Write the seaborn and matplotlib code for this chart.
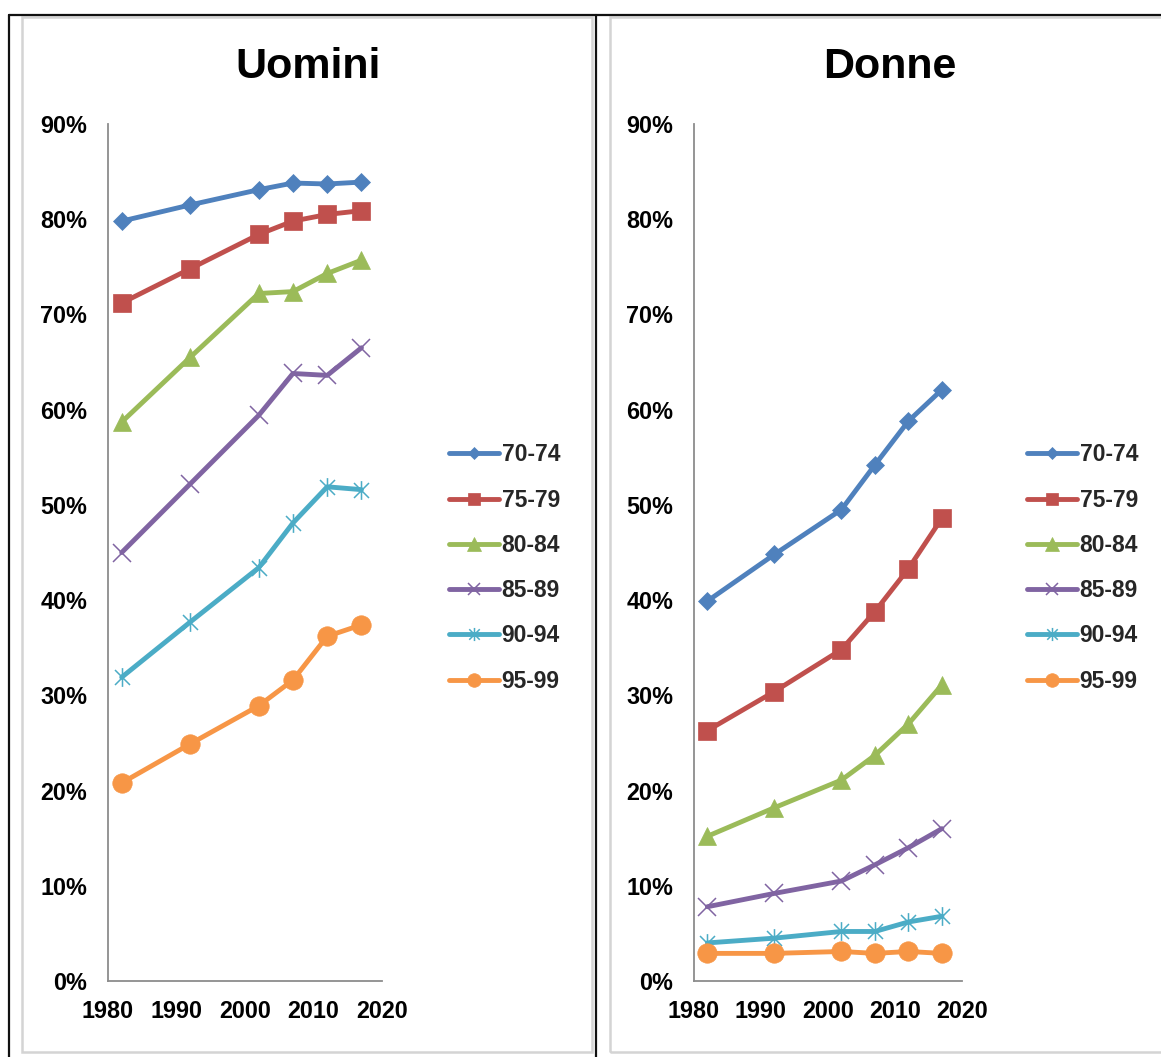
import numpy as np
import pandas as pd
import matplotlib
matplotlib.use("Agg")
import matplotlib.pyplot as plt
from matplotlib.path import Path
from matplotlib.lines import Line2D
from matplotlib.patches import Rectangle
from matplotlib.ticker import PercentFormatter, MultipleLocator
import seaborn as sns

# ---------------- data ----------------
anni = [1982, 1992, 2002, 2007, 2012, 2017]
eta = ["70-74", "75-79", "80-84", "85-89", "90-94", "95-99"]

uomini_70_74 = [79.8, 81.5, 83.1, 83.8, 83.7, 83.9]
uomini_75_79 = [71.2, 74.8, 78.4, 79.8, 80.5, 80.9]
uomini_80_84 = [58.7, 65.5, 72.2, 72.4, 74.3, 75.7]
uomini_85_89 = [45.0, 52.2, 59.4, 63.8, 63.6, 66.5]
uomini_90_94 = [31.9, 37.7, 43.4, 48.1, 51.9, 51.6]
uomini_95_99 = [20.8, 24.9, 28.9, 31.6, 36.2, 37.4]

donne_70_74 = [39.9, 44.8, 49.5, 54.2, 58.8, 62.1]
donne_75_79 = [26.3, 30.4, 34.8, 38.8, 43.3, 48.6]
donne_80_84 = [15.2, 18.2, 21.1, 23.7, 27.0, 31.1]
donne_85_89 = [7.8, 9.2, 10.5, 12.2, 14.0, 16.0]
donne_90_94 = [4.0, 4.5, 5.2, 5.2, 6.2, 6.8]
donne_95_99 = [2.9, 2.9, 3.1, 2.9, 3.1, 2.9]

titoli = ["Uomini", "Donne"]
y_ticks = [0, 10, 20, 30, 40, 50, 60, 70, 80, 90]
x_ticks = [1980, 1990, 2000, 2010, 2020]

serie = {
    "Uomini": [uomini_70_74, uomini_75_79, uomini_80_84, uomini_85_89, uomini_90_94, uomini_95_99],
    "Donne": [donne_70_74, donne_75_79, donne_80_84, donne_85_89, donne_90_94, donne_95_99],
}

def long_df(key):
    rows = []
    for g, vals in zip(eta, serie[key]):
        for a, v in zip(anni, vals):
            rows.append({"anno": a, "valore": v / 100.0, "eta": g})
    return pd.DataFrame(rows)

# ---------------- style ----------------
sns.set_style("white")
plt.rcParams["font.family"] = ["Liberation Sans", "DejaVu Sans"]
plt.rcParams["font.weight"] = "bold"

colori = ["#4F81BD", "#C0504D", "#9BBB59", "#8064A2", "#4BACC6", "#F79646"]
palette = dict(zip(eta, colori))

star = Path([(-1, -1), (1, 1), (-1, 1), (1, -1), (0, -1.25), (0, 1.25)],
            [Path.MOVETO, Path.LINETO, Path.MOVETO, Path.LINETO, Path.MOVETO, Path.LINETO])
marker_spec = {
    "70-74": dict(marker="D", ms=9, mew=0.5),
    "75-79": dict(marker="s", ms=13, mew=0.5),
    "80-84": dict(marker="^", ms=13.5, mew=0.5),
    "85-89": dict(marker="x", ms=12.5, mew=1.1),
    "90-94": dict(marker=star, ms=13.5, mew=1.1),
    "95-99": dict(marker="o", ms=14, mew=0.5),
}

W, H = 1161, 1057
fig = plt.figure(figsize=(W / 100, H / 100), dpi=100)

def fx(px):
    return px / W

def fy(py):
    return 1 - py / H

axes_px = [(108, 382), (694, 962)]
legend_x = [449, 1027]
title_x = [308, 890]

for i, key in enumerate(titoli):
    x0, x1 = axes_px[i]
    ax = fig.add_axes([fx(x0), fy(981), fx(x1) - fx(x0), fy(124) - fy(981)])
    df = long_df(key)
    sns.lineplot(data=df, x="anno", y="valore", hue="eta", hue_order=eta,
                 palette=palette, ax=ax, legend=False, linewidth=3.5,
                 sort=True, estimator=None)
    handles = []
    for line, g in zip(ax.lines, eta):
        spec = marker_spec[g]
        c = palette[g]
        line.set_marker(spec["marker"])
        line.set_markersize(spec["ms"])
        line.set_markeredgewidth(spec["mew"])
        line.set_markeredgecolor(c)
        line.set_markerfacecolor(c)
        line.set_color(c)
        line.set_solid_joinstyle("round")
        line.set_solid_capstyle("round")
        handles.append(line)

    ax.set_xlim(1980, 2020)
    ax.set_ylim(0, 0.9)
    ax.set_xticks(x_ticks)
    ax.set_yticks([t / 100 for t in y_ticks])
    ax.yaxis.set_major_formatter(PercentFormatter(1.0, decimals=0))
    ax.set_xlabel("")
    ax.set_ylabel("")
    for s in ["top", "right"]:
        ax.spines[s].set_visible(False)
    for s in ["left", "bottom"]:
        ax.spines[s].set_color("#8c8c8c")
        ax.spines[s].set_linewidth(1.3)
    ax.tick_params(axis="both", which="major", direction="out", length=6,
                   width=1.3, color="#8c8c8c", labelsize=16.8, labelcolor="black")
    ax.tick_params(axis="y", pad=9)
    ax.tick_params(axis="x", pad=8)
    for lab in ax.get_xticklabels() + ax.get_yticklabels():
        lab.set_fontweight("bold")
    ax.set_facecolor("none")
    ax.patch.set_alpha(0)

    leg = fig.legend(handles=handles, labels=eta, loc="center left",
                     bbox_to_anchor=(fx(legend_x[i]), fy(568)),
                     frameon=False, handlelength=2.2,
                     handletextpad=0.1, labelspacing=0.97, borderpad=0,
                     borderaxespad=0, markerscale=0.7,
                     prop={"weight": "bold", "size": 16.5})

    fig.text(fx(title_x[i]), fy(67), key, ha="center", va="center",
             fontsize=31, fontweight="bold", color="black")

# ---------------- frames ----------------
grey = "#d4d4d4"
fig.add_artist(Rectangle((fx(22), fy(1052)), fx(592) - fx(22), fy(17) - fy(1052),
                         transform=fig.transFigure, fill=False, ec=grey, lw=1.8, zorder=0))
fig.add_artist(Rectangle((fx(610), fy(1052)), fx(1200) - fx(610), fy(17) - fy(1052),
                         transform=fig.transFigure, fill=False, ec=grey, lw=1.8, zorder=0))
blk = "#111111"
fig.add_artist(Line2D([fx(9), 1.0], [fy(15), fy(15)], transform=fig.transFigure, color=blk, lw=1.6))
fig.add_artist(Line2D([fx(9), fx(9)], [fy(15), 0], transform=fig.transFigure, color=blk, lw=1.6))
fig.add_artist(Line2D([fx(596), fx(596)], [fy(15), 0], transform=fig.transFigure, color=blk, lw=1.6))

fig.savefig("out.png", dpi=100, facecolor="white")
